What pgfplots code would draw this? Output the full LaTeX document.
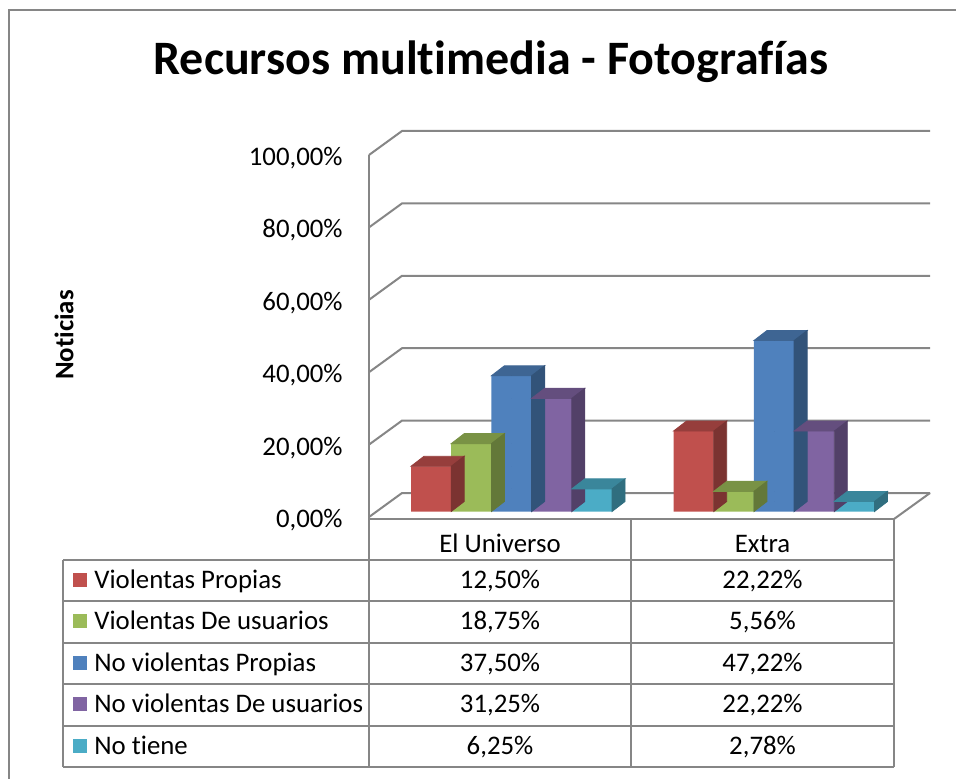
\documentclass[border=0pt]{standalone}
\usepackage{pgfplots}
\usepackage{pgfplotstable}
\pgfplotsset{compat=1.18}
\usepackage{fontspec}
\setmainfont{Carlito}[RawFeature={-liga;-clig;-calt;-dlig}]
\definecolor{c1}{HTML}{C0504D}
\definecolor{c2}{HTML}{9BBB59}
\definecolor{c3}{HTML}{4F81BD}
\definecolor{c4}{HTML}{8064A2}
\definecolor{c5}{HTML}{4BACC6}
\definecolor{gridc}{HTML}{868686}
\newcommand\tf{\fontsize{13.4}{16}\selectfont}
\pgfplotstableread{
x vp vu np nu nt
0 12.50 18.75 37.50 31.25 6.25
1 22.22 5.56 47.22 22.22 2.78
}\datatable
\pgfplotsset{
  front/.style n args={2}{ybar, bar width=20.1pt, bar shift=#1, fill=#2, draw=none},
  faces/.style n args={2}{%
    scatter, only marks, mark=*, mark size=0pt,
    mark options={draw=none,fill=none},
    visualization depends on={rawy \as \val},
    scatter/@pre marker code/.code={%
      \pgfmathsetmacro\hh{\val*1.81}%
      \fill[#2!78!black] ({#1-10.05pt},0pt) -- ({#1+10.05pt},0pt) -- ({#1+16.55pt},5pt) -- ({#1-3.55pt},5pt) -- cycle;
      \fill[#2!64!black] ({#1+10.05pt},0pt) -- ({#1+16.55pt},5pt) -- ({#1+16.55pt},{5pt-\hh pt}) -- ({#1+10.05pt},{-\hh pt}) -- cycle;
    },
    scatter/@post marker code/.code={},
  },
}
\begin{document}
\begin{tikzpicture}
\useasboundingbox (0,0) rectangle (478pt,389pt);
\begin{scope}[x=0.5pt,y=-0.5pt,yshift=389pt]
  % outer border
  \draw[gridc, line width=1pt] (9,790) -- (9,10) -- (970,10);
  % walls
  \foreach \k in {0,...,5}{
    \pgfmathsetmacro\yk{517-72.4*\k}
    \draw[gridc, line width=1pt] (369,\yk) -- (402,\yk-24) -- (930,\yk-24);
  }
  \draw[gridc, line width=1pt] (369,155) -- (369,519);
  \draw[gridc, line width=1pt] (930,493) -- (894,519);
  % title and y label
  \node[anchor=base, font=\fontsize{24}{28}\selectfont\bfseries, inner sep=0pt] at (491,75) {Recursos mult\kern0pt imedia - Fotografías};
  \node[rotate=90, anchor=south, font=\tf\bfseries, inner sep=0pt] at (74,335) {Not\kern0pt icias};
  % data table
  \draw[gridc, line width=1pt] (369,519) -- (894,519);
  \foreach \yy in {560,601.4,642.8,684.2,725.6,767}{
    \draw[gridc, line width=1pt] (63,\yy) -- (894,\yy);
  }
  \draw[gridc, line width=1pt] (63,560) -- (63,767);
  \draw[gridc, line width=1pt] (369,519) -- (369,767);
  \draw[gridc, line width=1pt] (631,519) -- (631,767);
  \draw[gridc, line width=1pt] (894,519) -- (894,767);
  \node[anchor=base, font=\tf, inner sep=0pt] at (500,552) {El Universo};
  \node[anchor=base, font=\tf, inner sep=0pt] at (762.5,552) {Extra};
  \foreach \r/\col/\name/\va/\vb in {
      0/c1/{Violentas Propias}/{12,50}/{22,22},
      1/c2/{Violentas De usuarios}/{18,75}/{5,56},
      2/c3/{No violentas Propias}/{37,50}/{47,22},
      3/c4/{No violentas De usuarios}/{31,25}/{22,22},
      4/c5/{No t\kern0pt iene}/{6,25}/{2,78}}{
    \pgfmathsetmacro\rt{560+41.4*\r}
    \fill[\col] (73,\rt+13) rectangle (87,\rt+27);
    \node[anchor=base west, font=\tf, inner sep=0pt] at (94,\rt+28.5) {\name};
    \node[anchor=base, font=\tf, inner sep=0pt] at (500,\rt+28.5) {\va\%};
    \node[anchor=base, font=\tf, inner sep=0pt] at (762.5,\rt+28.5) {\vb\%};
  }
\end{scope}
% front plane axis: tick labels
\begin{axis}[at={(184.5pt,130.5pt)}, anchor=south west, scale only axis,
  width=262.5pt, height=181pt, xmin=-0.5, xmax=1.5, ymin=0, ymax=100,
  axis line style={draw=none}, xtick=\empty, ytick={0,20,40,60,80,100},
  yticklabels={{0,00\%},{20,00\%},{40,00\%},{60,00\%},{80,00\%},{100,00\%}},
  major tick length=0pt,
  yticklabel style={font=\tf, anchor=east, inner sep=0pt, xshift=-13pt, yshift=-1.5pt}]
\end{axis}
% bars plane axis
\begin{axis}[at={(190.125pt,133.25pt)}, anchor=south west, scale only axis,
  width=262.5pt, height=181pt, xmin=-0.5, xmax=1.5, ymin=0, ymax=100,
  hide axis, clip=false]
\addplot[front={-40.2pt}{c1}] table[x=x,y=vp] {\datatable};
\addplot[faces={-40.2pt}{c1}] table[x=x,y=vp] {\datatable};
\addplot[front={-20.1pt}{c2}] table[x=x,y=vu] {\datatable};
\addplot[faces={-20.1pt}{c2}] table[x=x,y=vu] {\datatable};
\addplot[front={0pt}{c3}] table[x=x,y=np] {\datatable};
\addplot[faces={0pt}{c3}] table[x=x,y=np] {\datatable};
\addplot[front={20.1pt}{c4}] table[x=x,y=nu] {\datatable};
\addplot[faces={20.1pt}{c4}] table[x=x,y=nu] {\datatable};
\addplot[front={40.2pt}{c5}] table[x=x,y=nt] {\datatable};
\addplot[faces={40.2pt}{c5}] table[x=x,y=nt] {\datatable};
\end{axis}
\end{tikzpicture}
\end{document}
